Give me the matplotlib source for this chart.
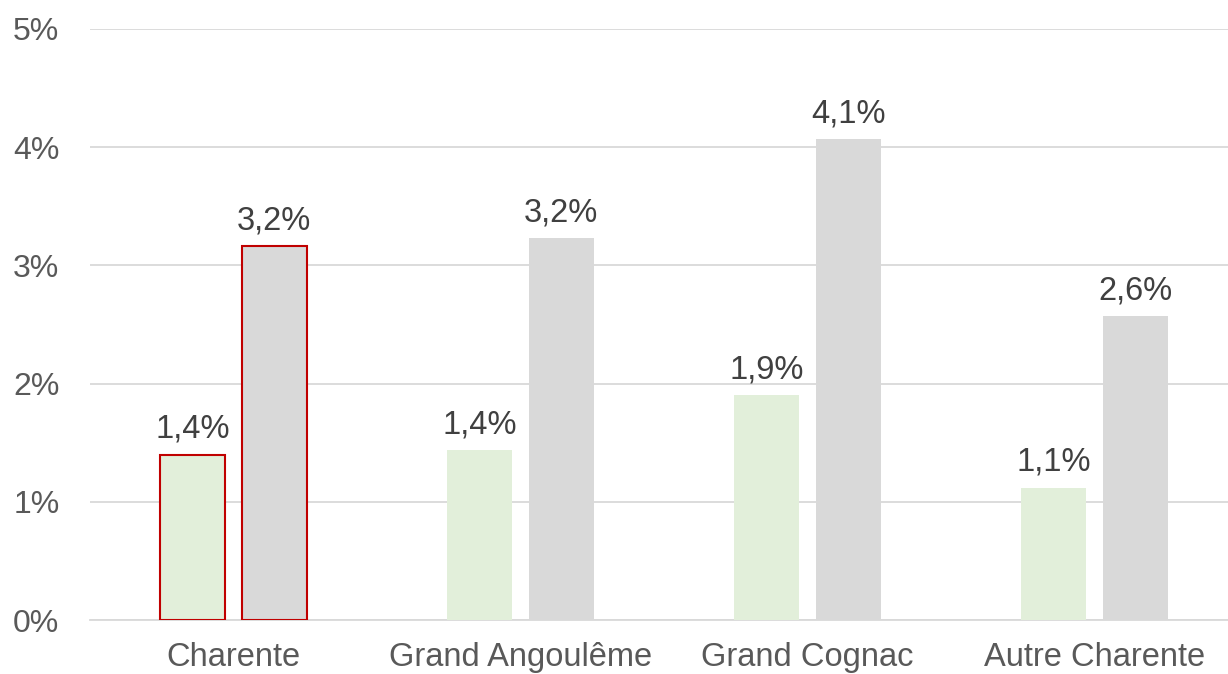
import numpy as np
import matplotlib.pyplot as plt

# Data
categories = ["Charente", "Grand Angoulême", "Grand Cognac", "Autre Charente"]
serie_a = [1.40, 1.44, 1.90, 1.12]   # green bars
serie_b = [3.16, 3.23, 4.07, 2.57]   # gray bars
labels_a = ["1,4%", "1,4%", "1,9%", "1,1%"]
labels_b = ["3,2%", "3,2%", "4,1%", "2,6%"]

plt.rcParams['font.family'] = ['Liberation Sans', 'DejaVu Sans']

fig = plt.figure(figsize=(12.28, 6.74), dpi=100)
ax = fig.add_axes([0.0733, 0.0801, 0.935, 0.877])

x = np.arange(len(categories))
width = 0.226
off = 0.142

edges = ["#C00000"] + ["none"] * (len(categories) - 1)
bars_a = ax.bar(x - off, serie_a, width, color="#E2EFDA", edgecolor=edges, linewidth=1.5, zorder=3)
bars_b = ax.bar(x + off, serie_b, width, color="#D9D9D9", edgecolor=edges, linewidth=1.5, zorder=3)

for bars, labs in ((bars_a, labels_a), (bars_b, labels_b)):
    for b, lab in zip(bars, labs):
        ax.annotate(lab, (b.get_x() + b.get_width() / 2, b.get_height()),
                    xytext=(0, 7), textcoords="offset points",
                    ha="center", va="bottom", fontsize=23.5, color="#404040")

ax.set_xlim(-0.5, 3.5)
ax.set_ylim(0, 5)
ax.set_yticks(range(0, 6))
ax.set_yticklabels([f"{i}%" for i in range(0, 6)])
ax.set_xticks(x)
ax.set_xticklabels(categories, fontsize=23.5, color="#595959")

ax.grid(axis="y", color="#D9D9D9", linewidth=1.3, zorder=0)
for s in ["top", "right", "left"]:
    ax.spines[s].set_visible(False)
ax.spines["bottom"].set_color("#D9D9D9")
ax.spines["bottom"].set_linewidth(1.3)
ax.tick_params(axis="y", length=0, pad=22, labelsize=23, labelcolor="#595959")
ax.tick_params(axis="x", length=0, pad=16)

fig.savefig("out.png", dpi=100)
